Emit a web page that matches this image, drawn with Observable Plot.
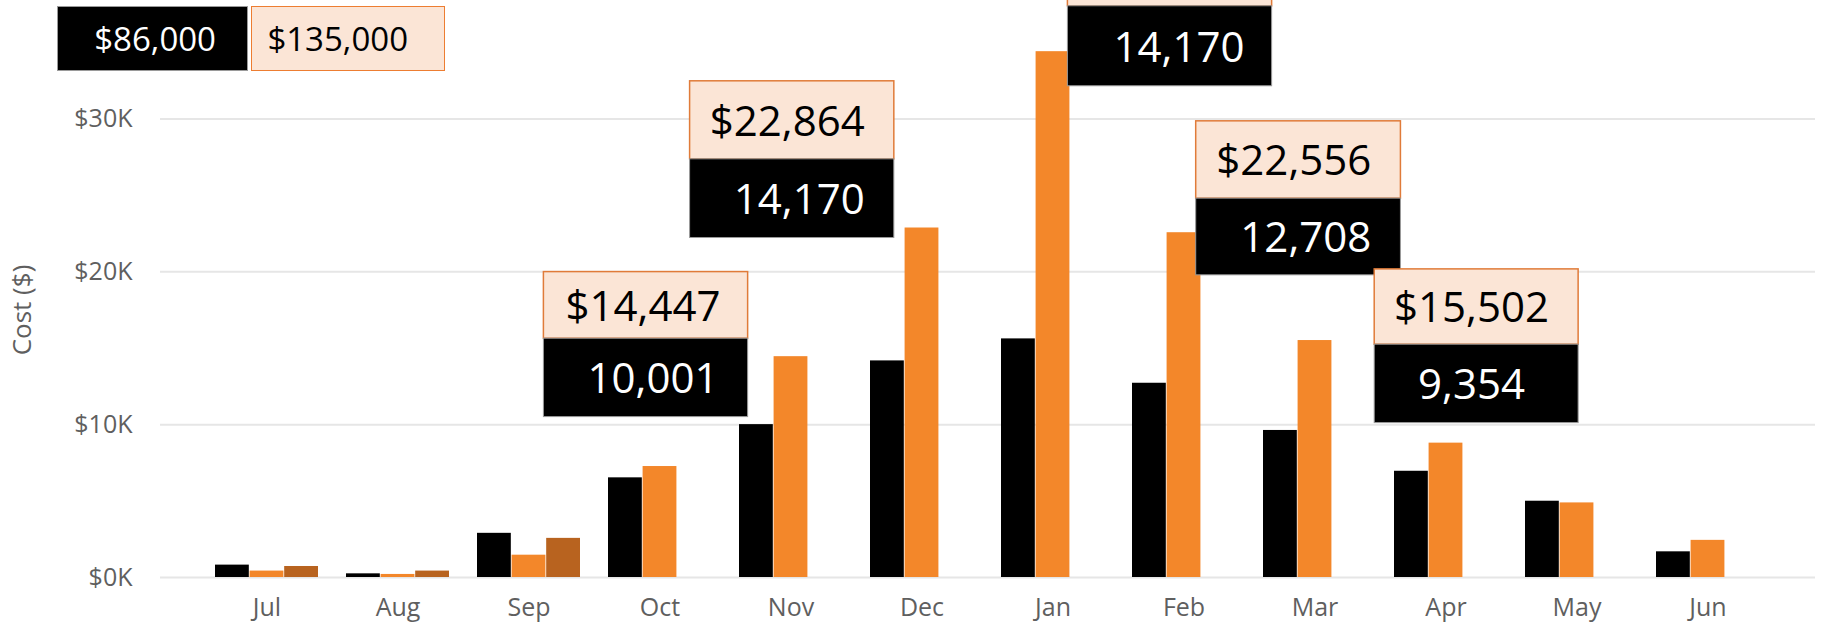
<!DOCTYPE html>
<html><head><meta charset="utf-8">
<script src="https://cdn.jsdelivr.net/npm/d3@7"></script>
<script src="https://cdn.jsdelivr.net/npm/@observablehq/plot@0.6"></script>
<style>
html,body{margin:0;padding:0;background:#fff;}
#wrap{position:relative;width:1843px;height:634px;overflow:hidden;}
#wrap svg{position:absolute;left:0;top:0;}
.tot{position:absolute;top:6px;height:65px;box-sizing:border-box;font-family:"Open Sans",sans-serif;font-size:33px;display:flex;align-items:center;justify-content:flex-end;z-index:2;}
</style></head><body><div id="wrap"></div>
<script>
// ---- data ----
const months = ["Jul","Aug","Sep","Oct","Nov","Dec","Jan","Feb","Mar","Apr","May","Jun"];
const blackCost  = [810, 240, 2890, 6520, 10001, 14170, 15610, 12708, 9620, 6950, 4990, 1680];
const orangeCost = [420, 200, 1460, 7260, 14447, 22864, 34400, 22556, 15502, 8790, 4880, 2430];
const brownCost  = [720, 420, 2560, null, null, null, null, null, null, null, null, null];
const yTicks = [0, 10000, 20000, 30000];
const totalLabels = ["$86,000", "$135,000"];
const calloutMonths = ["Nov", "Dec", "Jan", "Feb", "Mar"];
const calloutOrangeText = ["$14,447", "$22,864", "", "$22,556", "$15,502"];
const calloutBlackText = ["10,001", "14,170", "14,170", "12,708", "9,354"];

// ---- layout (positions/sizes, not data) ----
const W = 1843, H = 634, mL = 160, mR = 28, mT = 42, mB = 57;
const pI = 0.2106, pO = 0.4;
const step = (W - mL - mR) / (months.length - pI + 2 * pO);
const bw = step * (1 - pI);
const third = bw / 3;
// left offset from band start (px), top anchor (y value), peach height, black height, right text paddings
const calloutLayout = [
  {left: -195.6, w: 205, top: 19980, pH: 66.6, bH: 78.4, oPad: 28, bPad: 30},
  {left: -180.4, w: 205, top: 32461, pH: 78.0, bH: 78.7, oPad: 30, bPad: 30},
  {left: 66.4,  w: 205, top: 42474, pH: 78.0, bH: 80.0, oPad: 30, bPad: 28},
  {left: 63.7,  w: 205.5, top: 29843, pH: 77.3, bH: 76.7, oPad: 30, bPad: 30},
  {left: 111.2, w: 204.7, top: 20157, pH: 75.3, bH: 78.4, oPad: 30, bPad: 54}
];

const rows = months.map((m, i) => ({month: m, black: blackCost[i], orange: orangeCost[i], brown: brownCost[i]}));
const callouts = calloutMonths.map((m, i) => ({month: m, orange: calloutOrangeText[i], black: calloutBlackText[i], ...calloutLayout[i]}));

const FONT = '"Segoe UI","Open Sans",sans-serif';
const CFONT = '"Open Sans",sans-serif';

const calloutMarks = callouts.flatMap(c => {
  const insetLeft = c.left, insetRight = bw - c.left - c.w;
  return [
    Plot.barY([c], {x: "month", y1: "top", y2: "top", insetLeft, insetRight, insetTop: 0, insetBottom: -c.pH,
      fill: "#FBE5D6", stroke: "#E07B39", strokeWidth: 1.5}),
    Plot.barY([c], {x: "month", y1: "top", y2: "top", insetLeft, insetRight, insetTop: c.pH, insetBottom: -(c.pH + c.bH),
      fill: "#000", stroke: "#9a9a9a", strokeWidth: 1}),
    Plot.text([c], {x: "month", y: "top", text: "orange", dx: c.left + c.w - c.oPad - bw / 2, dy: c.pH / 2 + 2,
      textAnchor: "end", lineAnchor: "middle", fill: "#000", fontSize: 42, fontFamily: CFONT}),
    Plot.text([c], {x: "month", y: "top", text: "black", dx: c.left + c.w - c.bPad - bw / 2, dy: c.pH + c.bH / 2 + 2,
      textAnchor: "end", lineAnchor: "middle", fill: "#fff", fontSize: 42, fontFamily: CFONT})
  ];
});

const chart = Plot.plot({
  width: W, height: H,
  marginLeft: mL, marginRight: mR, marginTop: mT, marginBottom: mB,
  style: {fontFamily: FONT, fontSize: "25px", color: "#5f5f5f", background: "transparent", overflow: "visible"},
  x: {domain: months, paddingInner: pI, paddingOuter: pO, tickSize: 0, tickPadding: 21, label: null},
  y: {domain: [0, 35000], ticks: yTicks, tickFormat: d => "$" + d / 1000 + "K", tickSize: 0, tickPadding: 28, label: null},
  marks: [
    Plot.ruleY(yTicks, {stroke: "#e6e6e6", strokeWidth: 2}),
    Plot.barY(rows, {x: "month", y: "black", fill: "#000", insetLeft: 0, insetRight: 2 * third}),
    Plot.barY(rows, {x: "month", y: "orange", fill: "#F3872A", insetLeft: third, insetRight: third}),
    Plot.barY(rows.filter(d => d.brown != null), {x: "month", y: "brown", fill: "#B8631F", insetLeft: 2 * third, insetRight: 0}),
    ...calloutMarks,
    Plot.text(["Cost ($)"], {frameAnchor: "left", textAnchor: "middle", lineAnchor: "middle", rotate: -90, dx: -138, fill: "#5f5f5f", fontSize: 26, fontFamily: FONT})
  ]
});

const wrap = document.getElementById("wrap");
wrap.appendChild(chart);

// totals boxes (legend-like header)
const totStyles = [
  {left: 57, width: 191, bg: "#000", color: "#fff", border: "1px solid #9a9a9a", pad: 31},
  {left: 251, width: 194, bg: "#FBE5D6", color: "#000", border: "1.5px solid #ED7D31", pad: 36}
];
totalLabels.forEach((t, i) => {
  const s = totStyles[i];
  const d = document.createElement("div");
  d.className = "tot";
  d.textContent = t;
  Object.assign(d.style, {left: s.left + "px", width: s.width + "px", background: s.bg, color: s.color, border: s.border, paddingRight: s.pad + "px"});
  wrap.appendChild(d);
});
</script></body></html>
